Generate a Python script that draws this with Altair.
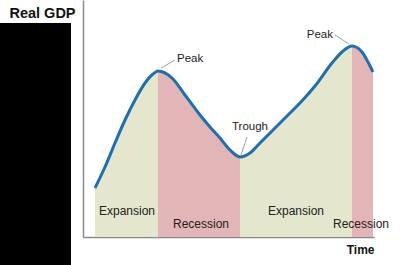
import altair as alt
import pandas as pd

# Curve (time units, real GDP units)
time_vals = [12, 22, 32, 42, 52, 62, 70, 75, 89, 102, 117, 127, 137, 147, 157,
             167, 177, 187, 197, 207, 217, 232, 249, 259, 269, 279, 285, 290]
gdp_vals = [49, 70, 94, 117, 137, 154, 163, 166, 159, 142, 122, 110, 99, 87, 80,
            84, 94, 104, 114, 124, 134, 151, 174, 185, 191, 185, 175, 165]

# Phase boundaries (start, end) and names
phase_names = ["Expansion", "Recession", "Expansion", "Recession"]
phase_start = [12, 75, 157, 269]
phase_end = [75, 157, 269, 290]

# Phase labels
phase_label_t = [44, 118, 213, 278]
phase_label_g = [26, 13, 26, 13]

# Turning point labels
turn_text = ["Peak", "Trough", "Peak"]
turn_t = [94, 167, 250]
turn_g = [178, 110, 202]
turn_align = ["left", "center", "right"]
lead_t1 = [78, 164, 252]
lead_g1 = [169, 100, 202]
lead_t2 = [92, 158, 266]
lead_g2 = [177, 82, 193]

curve = pd.DataFrame({"t": time_vals, "g": gdp_vals})

rows = []
for i, (nm, s, e) in enumerate(zip(phase_names, phase_start, phase_end)):
    for t, g in zip(time_vals, gdp_vals):
        if s <= t <= e:
            rows.append({"t": t, "g": g, "phase": nm, "seg": i})
areas = pd.DataFrame(rows)

plabels = pd.DataFrame({"t": phase_label_t, "g": phase_label_g, "text": phase_names})
turns = pd.DataFrame({"t": turn_t, "g": turn_g, "text": turn_text, "align": turn_align})
leads = pd.DataFrame({"t": lead_t1, "g": lead_g1, "t2": lead_t2, "g2": lead_g2})

FONT = "Liberation Sans"
xs = alt.Scale(domain=[0, 291], nice=False, zero=False)
ys = alt.Scale(domain=[0, 237], nice=False)

xax = alt.Axis(title="Time", labels=False, ticks=False, grid=False,
               domainColor="#8a8a8a", domainWidth=1.5,
               titleFont=FONT, titleFontSize=12, titleFontWeight="bold", titleColor="#111",
               titleX=291, titleAlign="right", titleY=12, titleBaseline="middle")
yax = alt.Axis(title="Real GDP", labels=False, ticks=False, grid=False,
               domainColor="#8a8a8a", domainWidth=1.5,
               titleFont=FONT, titleFontSize=14.5, titleFontWeight="bold", titleColor="#111",
               titleAngle=0, titleX=-41, titleY=13, titleAlign="center", titleBaseline="middle")

area = alt.Chart(areas).mark_area(interpolate="monotone", opacity=1).encode(
    x=alt.X("t:Q", scale=xs, axis=xax),
    y=alt.Y("g:Q", scale=ys, axis=yax, stack=None),
    color=alt.Color("phase:N", scale=alt.Scale(domain=["Expansion", "Recession"],
                                               range=["#e4e7cd", "#e2b5b6"]), legend=None),
    detail="seg:N",
)

line = alt.Chart(curve).mark_line(interpolate="monotone", color="#1f6fb0",
                                  strokeWidth=3).encode(
    x=alt.X("t:Q", scale=xs), y=alt.Y("g:Q", scale=ys))

ptext = alt.Chart(plabels).mark_text(font=FONT, fontSize=12, color="#222").encode(
    x=alt.X("t:Q", scale=xs), y=alt.Y("g:Q", scale=ys), text="text:N")

leader = alt.Chart(leads).mark_rule(color="#888", strokeWidth=0.8).encode(
    x=alt.X("t:Q", scale=xs), y=alt.Y("g:Q", scale=ys), x2="t2:Q", y2="g2:Q")

tt = []
for al in ["left", "center", "right"]:
    tt.append(alt.Chart(turns).transform_filter(alt.datum.align == al).mark_text(
        font=FONT, fontSize=11.5, color="#222", align=al).encode(
        x=alt.X("t:Q", scale=xs), y=alt.Y("g:Q", scale=ys), text="text:N"))

black = alt.Chart(pd.DataFrame({"a": [0]})).mark_rect(color="black").encode(
    x=alt.value(-83), x2=alt.value(-12), y=alt.value(23), y2=alt.value(270))

chart = alt.layer(area, line, leader, ptext, *tt, black).properties(
    width=291, height=237,
    autosize=alt.AutoSizeParams(type="none"),
    padding={"left": 83, "top": 0, "right": 26, "bottom": 28},
    background="white",
).configure_view(stroke=None)

chart.save("out.html", embed_options={"renderer": "svg", "actions": False})
